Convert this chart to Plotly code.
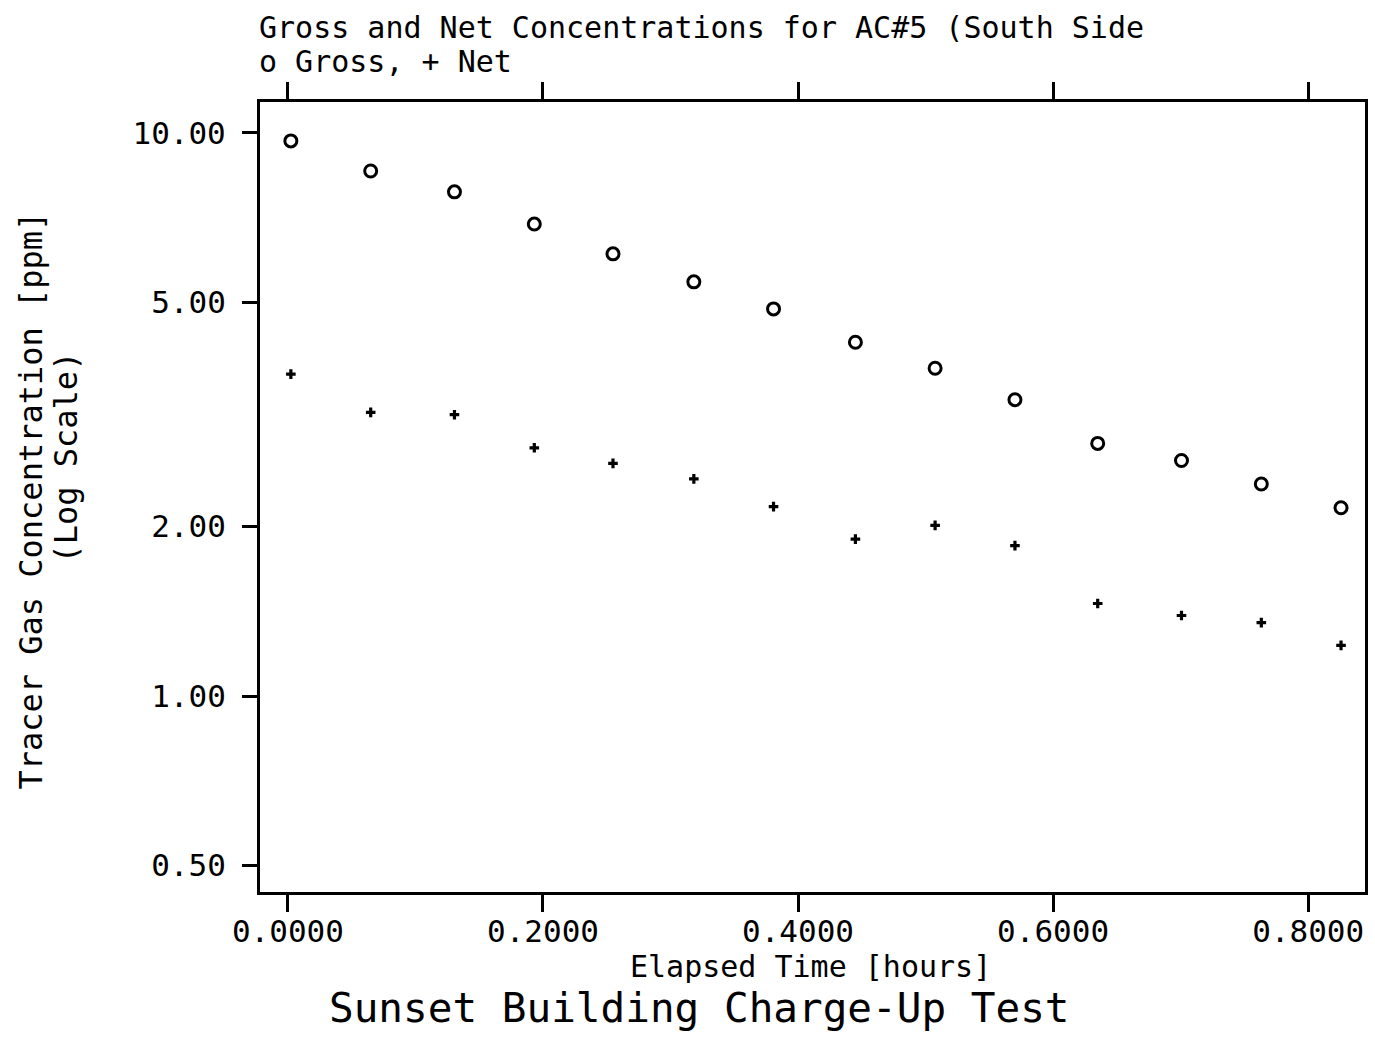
import plotly.graph_objects as go

# Data
elapsed_hours = [0.0023, 0.0649, 0.1306, 0.1932, 0.2549, 0.3183, 0.3808,
                 0.4450, 0.5075, 0.5701, 0.6350, 0.7007, 0.7633, 0.8258]
gross_ppm = [9.68, 8.56, 7.86, 6.89, 6.10, 5.44, 4.87,
             4.25, 3.82, 3.36, 2.81, 2.62, 2.38, 2.16]
net_ppm = [3.73, 3.19, 3.16, 2.76, 2.59, 2.43, 2.17,
           1.90, 2.01, 1.85, 1.46, 1.39, 1.35, 1.23]

x_tickvals = [0.0, 0.2, 0.4, 0.6, 0.8]
x_ticktext = ["0.0000", "0.2000", "0.4000", "0.6000", "0.8000"]
y_tickvals = [0.5, 1.0, 2.0, 5.0, 10.0]
y_ticktext = ["0.50", "1.00", "2.00", "5.00", "10.00"]

FONT = "DejaVu Sans Mono"

fig = go.Figure()
fig.add_trace(go.Scatter(
    x=elapsed_hours, y=gross_ppm, mode="markers", name="Gross",
    marker=dict(symbol="circle-open", size=12, color="black",
                line=dict(width=3, color="black")),
))
fig.add_trace(go.Scatter(
    x=elapsed_hours, y=net_ppm, mode="markers", name="Net",
    marker=dict(symbol="cross", size=8, color="black",
                line=dict(width=0)),
))

fig.update_layout(
    width=1375, height=1037,
    margin=dict(l=260, r=7, t=102, b=145),
    paper_bgcolor="white", plot_bgcolor="white",
    showlegend=False,
    font=dict(family=FONT, color="black", size=31),
    xaxis=dict(
        range=[-0.0219, 0.8446], tickvals=x_tickvals, ticktext=x_ticktext,
        showgrid=False, zeroline=False,
        showline=True, linecolor="black", linewidth=3, mirror="ticks",
        ticks="outside", ticklen=17, tickwidth=2.5, tickcolor="black",
        tickfont=dict(family=FONT, size=31, color="black"),
        ticklabelstandoff=-7,
    ),
    yaxis=dict(
        type="log", range=[-0.348, 1.055],
        tickvals=y_tickvals, ticktext=y_ticktext,
        showgrid=False, zeroline=False,
        showline=True, linecolor="black", linewidth=3, mirror=True,
        ticks="outside", ticklen=15, tickwidth=2.5, tickcolor="black",
        tickfont=dict(family=FONT, size=31, color="black"),
        ticklabelstandoff=10,
    ),
)

def px_x(p):
    return (p - 260) / 1108.0

def px_y(p):
    return (892 - p) / 790.0

annos = [
    dict(text="Gross and Net Concentrations for AC#5 (South Side",
         x=px_x(257), y=px_y(28), xanchor="left", yanchor="middle", size=30),
    dict(text="o Gross, + Net",
         x=px_x(257), y=px_y(62), xanchor="left", yanchor="middle", size=30),
    dict(text="Elapsed Time [hours]",
         x=px_x(812), y=px_y(966), xanchor="center", yanchor="middle", size=30),
    dict(text="Sunset Building Charge-Up Test",
         x=px_x(701), y=px_y(1008), xanchor="center", yanchor="middle", size=41),
]
for a in annos:
    fig.add_annotation(text=a["text"], xref="paper", yref="paper",
                       x=a["x"], y=a["y"], xanchor=a["xanchor"],
                       yanchor=a["yanchor"], showarrow=False,
                       font=dict(family=FONT, size=a["size"], color="black"))

fig.add_annotation(text="Tracer Gas Concentration [ppm]", xref="paper", yref="paper",
                   x=px_x(30), y=px_y(501), xanchor="center", yanchor="middle",
                   textangle=-90, showarrow=False,
                   font=dict(family=FONT, size=32, color="black"))
fig.add_annotation(text="(Log Scale)", xref="paper", yref="paper",
                   x=px_x(65), y=px_y(458), xanchor="center", yanchor="middle",
                   textangle=-90, showarrow=False,
                   font=dict(family=FONT, size=32, color="black"))

fig.write_html("out.html")
